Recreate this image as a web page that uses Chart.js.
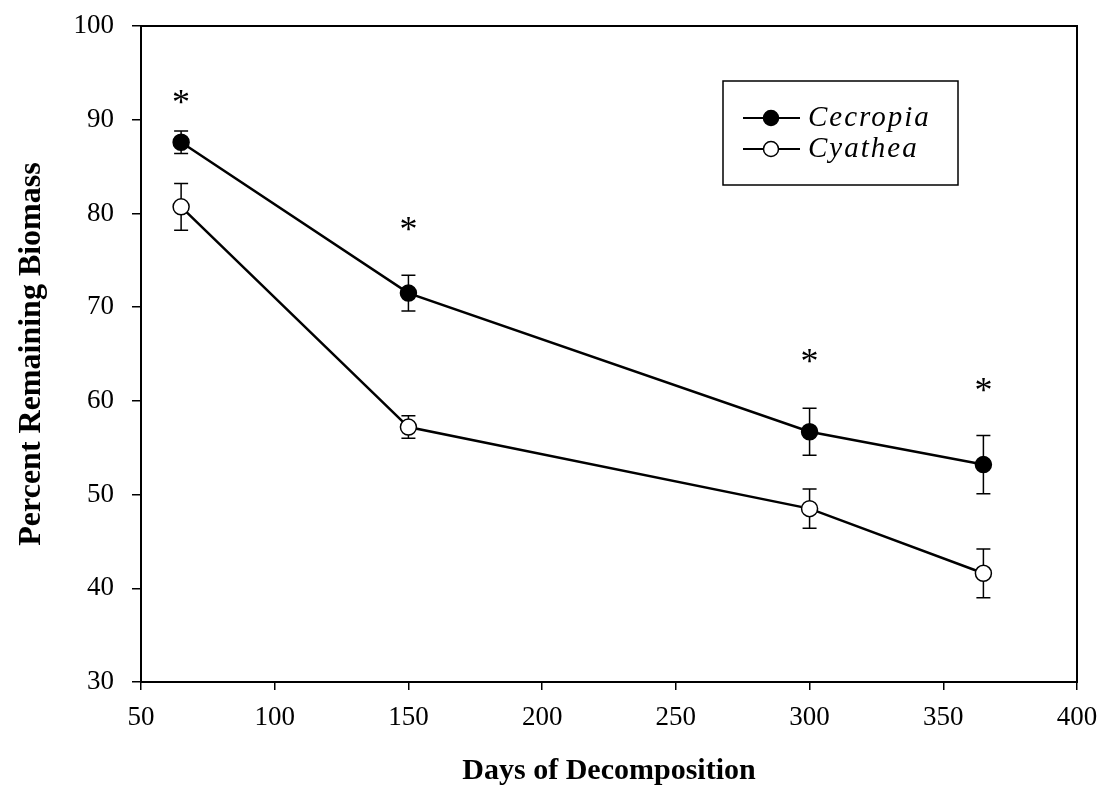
<!DOCTYPE html>
<html>
<head>
<meta charset="utf-8">
<script src="https://cdn.jsdelivr.net/npm/chart.js@4.4.1/dist/chart.umd.min.js"></script>
<style>
  html, body { margin: 0; padding: 0; background: #fff; }
  #wrap { width: 1111px; height: 792px; }
</style>
</head>
<body>
<div id="wrap"><canvas id="decomp"></canvas></div>
<script>
// days sampled and % biomass left for each litter type
var days = [65, 150, 300, 365];
var cecropia = [87.6, 71.5, 56.7, 53.2];
var cecropiaErr = [1.2, 1.9, 2.5, 3.1];
var cyathea = [80.7, 57.2, 48.5, 41.6];
var cyatheaErr = [2.5, 1.2, 2.1, 2.6];
// height of the significance star over each sampling day
var starLevel = [92.3, 78.7, 64.6, 61.5];
var xTicks = [50, 100, 150, 200, 250, 300, 350, 400];
var yTicks = [30, 40, 50, 60, 70, 80, 90, 100];

var serif = "'Liberation Serif', 'Times New Roman', serif";

function toPoints(xs, ys) {
    return xs.map(function (x, i) { return { x: x, y: ys[i] }; });
}

// box around the plot, error bars and the stars
var extras = {
    id: 'extras',
    afterDatasetsDraw: function (chart) {
        var ctx = chart.ctx;
        var area = chart.chartArea;
        var xs = chart.scales.x, ys = chart.scales.y;
        ctx.save();
        ctx.strokeStyle = '#000';
        ctx.lineWidth = 2;
        ctx.strokeRect(area.left, area.top, area.right - area.left, area.bottom - area.top);

        ctx.lineWidth = 1.5;
        [[cecropia, cecropiaErr], [cyathea, cyatheaErr]].forEach(function (s) {
            days.forEach(function (d, i) {
                var px = xs.getPixelForValue(d);
                var top = ys.getPixelForValue(s[0][i] + s[1][i]);
                var bot = ys.getPixelForValue(s[0][i] - s[1][i]);
                var mid = ys.getPixelForValue(s[0][i]);
                ctx.beginPath();
                ctx.moveTo(px, top); ctx.lineTo(px, mid - 8);
                ctx.moveTo(px, mid + 8); ctx.lineTo(px, bot);
                ctx.moveTo(px - 7, top); ctx.lineTo(px + 7, top);
                ctx.moveTo(px - 7, bot); ctx.lineTo(px + 7, bot);
                ctx.stroke();
            });
        });

        ctx.fillStyle = '#000';
        ctx.font = '36px ' + serif;
        ctx.textAlign = 'center';
        ctx.textBaseline = 'middle';
        days.forEach(function (d, i) {
            ctx.fillText('*', xs.getPixelForValue(d), ys.getPixelForValue(starLevel[i]) + 6);
        });
        ctx.restore();
    }
};

// framed legend with line + marker samples
var boxLegend = {
    id: 'boxLegend',
    afterDraw: function (chart) {
        var ctx = chart.ctx;
        ctx.save();
        ctx.strokeStyle = '#000';
        ctx.lineWidth = 1.5;
        ctx.strokeRect(723, 81, 235, 104);
        chart.data.datasets.forEach(function (ds, i) {
            var y = 118 + i * 31;
            ctx.lineWidth = 2;
            ctx.beginPath();
            ctx.moveTo(743, y); ctx.lineTo(800, y);
            ctx.stroke();
            ctx.beginPath();
            ctx.arc(771, y, 7.5, 0, Math.PI * 2);
            ctx.fillStyle = ds.pointBackgroundColor;
            ctx.fill();
            ctx.lineWidth = 1.5;
            ctx.stroke();
            ctx.fillStyle = '#000';
            ctx.font = 'italic 29px ' + serif;
            ctx.letterSpacing = '2px';
            ctx.textAlign = 'left';
            ctx.textBaseline = 'middle';
            ctx.fillText(ds.label, 808, y);
            ctx.letterSpacing = '0px';
        });
        ctx.restore();
    }
};

new Chart(document.getElementById('decomp'), {
    type: 'line',
    data: {
        datasets: [{
            label: 'Cecropia',
            data: toPoints(days, cecropia),
            borderColor: '#000',
            borderWidth: 2.5,
            pointRadius: 8,
            pointBackgroundColor: '#000',
            pointBorderColor: '#000',
            pointBorderWidth: 1.5,
            tension: 0
        }, {
            label: 'Cyathea',
            data: toPoints(days, cyathea),
            borderColor: '#000',
            borderWidth: 2.5,
            pointRadius: 8,
            pointBackgroundColor: '#fff',
            pointBorderColor: '#000',
            pointBorderWidth: 1.5,
            tension: 0
        }]
    },
    options: {
        responsive: true,
        maintainAspectRatio: false,
        animation: false,
        layout: { padding: { top: 26, right: 34, left: 0, bottom: 0 } },
        plugins: { legend: { display: false }, tooltip: { enabled: false } },
        scales: {
            x: {
                type: 'linear',
                min: 50, max: 400,
                afterBuildTicks: function (s) { s.ticks = xTicks.map(function (v) { return { value: v }; }); },
                afterFit: function (s) { s.height = 110; },
                grid: { drawOnChartArea: false, color: '#000', tickLength: 8, lineWidth: 1.5 },
                border: { color: '#000', width: 2 },
                ticks: { color: '#000', font: { family: serif, size: 27 }, padding: 12, maxRotation: 0 },
                title: {
                    display: true, text: 'Days of Decomposition', color: '#000',
                    font: { family: serif, size: 30, weight: 'bold' }, padding: { top: 0, bottom: 3 }
                }
            },
            y: {
                min: 30, max: 100,
                afterBuildTicks: function (s) { s.ticks = yTicks.map(function (v) { return { value: v }; }); },
                afterFit: function (s) {
                    s.width = 141;
                    s.paddingTop = 0;
                    s.paddingBottom = 0;
                },
                grid: { drawOnChartArea: false, color: '#000', tickLength: 9, lineWidth: 1.5 },
                border: { color: '#000', width: 2 },
                ticks: { color: '#000', font: { family: serif, size: 27 }, padding: 18 },
                title: {
                    display: true, text: 'Percent Remaining Biomass', color: '#000',
                    font: { family: serif, size: 32, weight: 'bold' }, padding: { top: 13, bottom: 0 }
                }
            }
        }
    },
    plugins: [extras, boxLegend]
});
</script>
</body>
</html>
